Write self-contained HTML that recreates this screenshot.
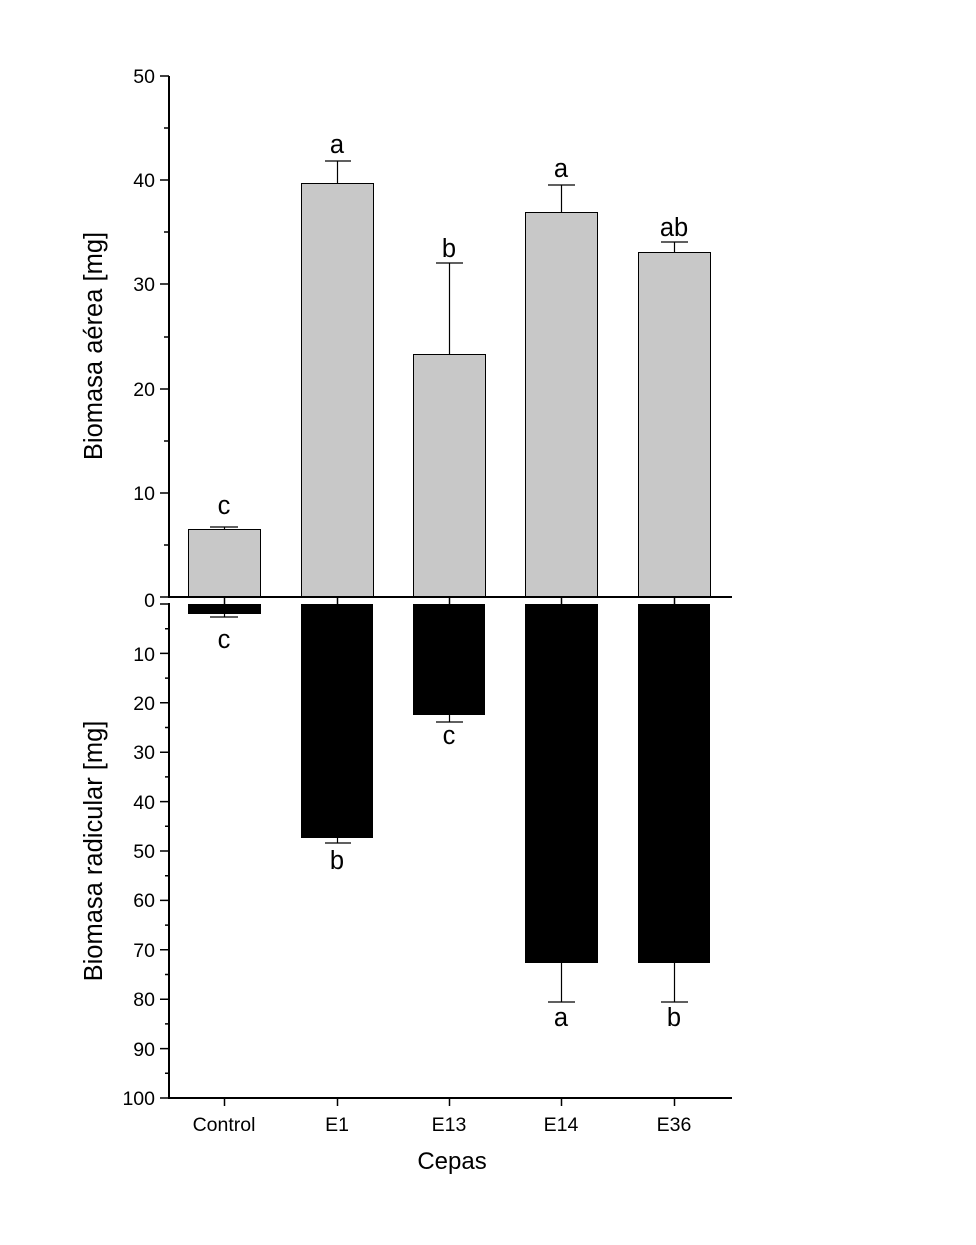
<!DOCTYPE html>
<html><head><meta charset="utf-8"><style>body{margin:0;background:#fff}svg{display:block}</style></head>
<body>
<svg width="976" height="1245" viewBox="0 0 976 1245" xmlns="http://www.w3.org/2000/svg" font-family="Liberation Sans, Arial, sans-serif">
<g stroke="#000" stroke-width="1" fill="#c8c8c8">
<rect x="188.5" y="529.5" width="72" height="67"/>
<rect x="301.5" y="183.5" width="72" height="413"/>
<rect x="413.5" y="354.5" width="72" height="242"/>
<rect x="525.5" y="212.5" width="72" height="384"/>
<rect x="638.5" y="252.5" width="72" height="344"/>
</g>
<g fill="#000">
<rect x="188" y="604" width="73" height="10"/>
<rect x="301" y="604" width="72" height="234"/>
<rect x="413" y="604" width="72" height="111"/>
<rect x="525" y="604" width="73" height="359"/>
<rect x="638" y="604" width="72" height="359"/>
</g>
<g stroke="#000" stroke-width="1.2" fill="none">
<path d="M224.5 529V527M210 527H238"/>
<path d="M337.5 183V161M325 161H351"/>
<path d="M449.5 354V263M436 263H463"/>
<path d="M561.5 212V185M548 185H575"/>
<path d="M674.5 252V242M661 242H688"/>
<path d="M224.5 614V617M210 617H238"/>
<path d="M337.5 838V843M325 843H351"/>
<path d="M449.5 715V722M436 722H463"/>
<path d="M561.5 963V1002M548 1002H575"/>
<path d="M674.5 963V1002M661 1002H688"/>
</g>
<g stroke="#000" stroke-width="2" fill="none">
<path d="M169 76V597M168 597H732"/>
<path d="M169 603V1099M168 1098H732"/>
</g>
<g stroke="#000" stroke-width="1.5">
<path d="M160 76H169M160 180H169M160 284H169M160 389H169M160 493H169M160 597H169"/>
<path d="M164 128H169M164 232H169M164 337H169M164 441H169M164 545H169"/>
<path d="M160 604H169M160 653.4H169M160 702.8H169M160 752.2H169M160 801.6H169M160 851H169M160 900.4H169M160 949.8H169M160 999.2H169M160 1048.6H169M160 1098H169"/>
<path d="M165 628.7H169M165 678.1H169M165 727.5H169M165 776.9H169M165 826.3H169M165 875.7H169M165 925.1H169M165 974.5H169M165 1023.9H169M165 1073.3H169"/>
<path d="M224.5 597V604M337.5 597V604M449.5 597V604M561.5 597V604M674.5 597V604"/>
<path d="M224.5 1098V1106M337.5 1098V1106M449.5 1098V1106M561.5 1098V1106M674.5 1098V1106"/>
</g>
<g font-size="19.5" text-anchor="end" fill="#000">
<text x="155" y="83">50</text><text x="155" y="187">40</text><text x="155" y="291">30</text><text x="155" y="396">20</text><text x="155" y="500">10</text><text x="155" y="607">0</text>
<text x="155" y="661">10</text><text x="155" y="710">20</text><text x="155" y="759">30</text><text x="155" y="809">40</text><text x="155" y="858">50</text><text x="155" y="907">60</text><text x="155" y="957">70</text><text x="155" y="1006">80</text><text x="155" y="1056">90</text><text x="155" y="1105">100</text>
</g>
<g font-size="19.5" text-anchor="middle">
<text x="224" y="1131">Control</text><text x="337" y="1131">E1</text><text x="449" y="1131">E13</text><text x="561" y="1131">E14</text><text x="674" y="1131">E36</text>
</g>
<g font-size="25.5" text-anchor="middle">
<text x="224" y="514">c</text><text x="337" y="153">a</text><text x="449" y="257">b</text><text x="561" y="177">a</text><text x="674" y="236">ab</text>
<text x="224" y="648">c</text><text x="337" y="869">b</text><text x="449" y="744">c</text><text x="561" y="1026">a</text><text x="674" y="1026">b</text>
</g>
<text x="452" y="1169" font-size="24" text-anchor="middle">Cepas</text>
<text transform="translate(102,346) rotate(-90)" font-size="25.5" text-anchor="middle">Biomasa aérea [mg]</text>
<text transform="translate(102,851) rotate(-90)" font-size="25.5" text-anchor="middle">Biomasa radicular [mg]</text>
</svg>
</body></html>
